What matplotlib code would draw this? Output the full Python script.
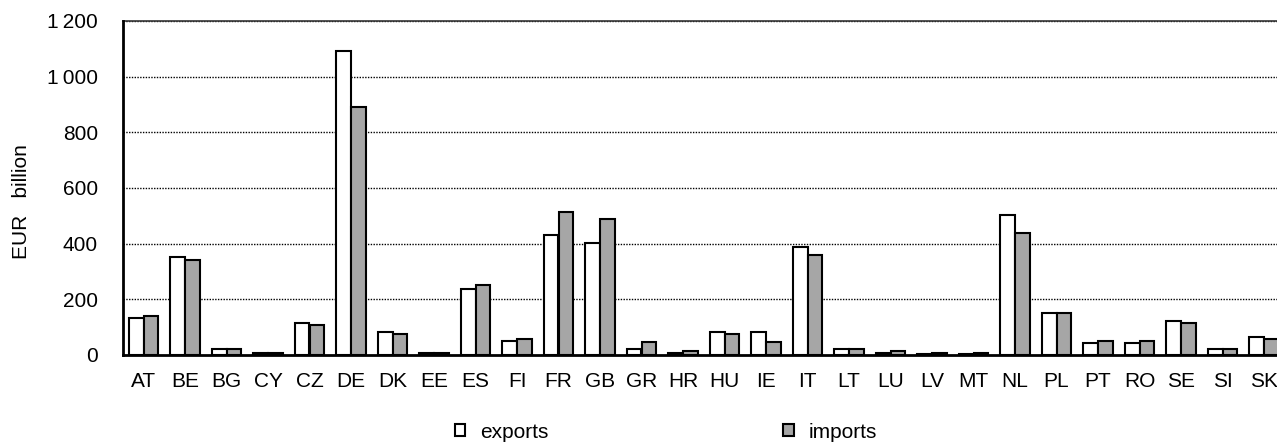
import matplotlib
matplotlib.use("Agg")
import matplotlib.pyplot as plt
import numpy as np
from matplotlib.patches import Patch

plt.rcParams['font.family'] = ['Liberation Sans', 'DejaVu Sans']

countries = ["AT", "BE", "BG", "CY", "CZ", "DE", "DK", "EE", "ES", "FI", "FR", "GB", "GR", "HR",
             "HU", "IE", "IT", "LT", "LU", "LV", "MT", "NL", "PL", "PT", "RO", "SE", "SI", "SK"]
exports = [132, 352, 23, 6, 116, 1092, 81, 6, 238, 51, 432, 404, 23, 6,
           81, 81, 389, 23, 6, 5, 5, 504, 152, 44, 44, 123, 23, 66]
imports = [139, 340, 23, 7, 109, 892, 74, 7, 253, 59, 513, 490, 46, 15,
           74, 46, 360, 23, 15, 6, 6, 440, 152, 51, 51, 116, 23, 59]
yticks = [0, 200, 400, 600, 800, 1000, 1200]
ytick_labels = ["0", "200", "400", "600", "800", "1\u2009000", "1\u2009200"]

W, H = 1277, 443
fig = plt.figure(figsize=(W / 100, H / 100), dpi=100)
ncat = len(countries)
cw = 41.5
ax_left, ax_top, ax_bot = 122.75, 21, 355
ax_right = ax_left + ncat * cw
ax = fig.add_axes([ax_left / W, 1 - ax_bot / H, (ax_right - ax_left) / W, (ax_bot - ax_top) / H])

x = np.arange(ncat)
bw = 0.36
gray = "#A6A6A6"
ax.bar(x - bw / 2, exports, width=bw, color="white", edgecolor="black", linewidth=1.5, zorder=3)
ax.bar(x + bw / 2, imports, width=bw, color=gray, edgecolor="black", linewidth=1.5, zorder=3)

ax.set_xlim(-0.5, ncat - 0.5)
ax.set_ylim(0, 1200)
ax.set_yticks(yticks)
ax.set_yticklabels(ytick_labels)
ax.set_xticks(x)
ax.set_xticklabels(countries)
ax.tick_params(axis='both', length=0, labelsize=15)
ax.tick_params(axis='y', pad=18)
ax.tick_params(axis='x', pad=12)

for y in yticks[1:]:
    ax.axhline(y, color="black", linestyle=(0, (1, 1)), linewidth=1.0, zorder=1)
ax.axhline(1200, color="#333333", linewidth=1.2, zorder=1, clip_on=False)

for s in ["top", "right"]:
    ax.spines[s].set_visible(False)
ax.spines["left"].set_linewidth(2)
ax.spines["bottom"].set_linewidth(2)

ax.set_ylabel("EUR   billion", fontsize=15)
ax.yaxis.set_label_coords((31 - ax_left) / (ax_right - ax_left), 0.46)

handles = [Patch(facecolor="white", edgecolor="black", linewidth=1.5, label="exports"),
           Patch(facecolor=gray, edgecolor="black", linewidth=1.5, label="imports")]
fig.legend(handles=handles, ncol=2, loc="center left", bbox_to_anchor=(455 / W, 1 - 432 / H),
           frameon=False, fontsize=15, handlelength=0.5, handleheight=0.5, handletextpad=0.72,
           columnspacing=11.25, borderpad=0, borderaxespad=0)

fig.savefig("out.png", dpi=100)
